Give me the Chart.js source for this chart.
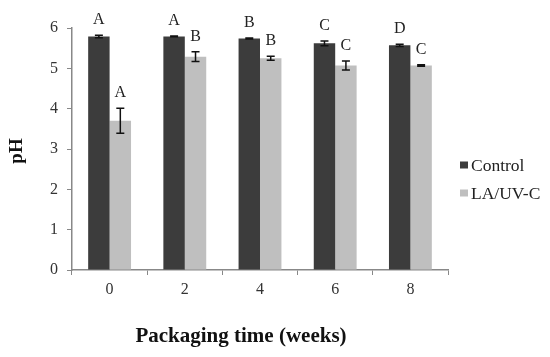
<!DOCTYPE html>
<html><head><meta charset="utf-8">
<script src="https://cdn.jsdelivr.net/npm/chart.js@4"></script>
<style>html,body{margin:0;padding:0;background:#fff}#w{width:550px;height:357px}</style>
</head><body><div id="w"><canvas id="c"></canvas></div>
<script>
const categories = ['0','2','4','6','8'];
const controlValues = [5.79, 5.79, 5.74, 5.62, 5.57];
const controlErrors = [0.03, 0.01, 0.01, 0.06, 0.03];
const controlLetters = ['A','A','B','C','D'];
const laValues = [3.70, 5.29, 5.25, 5.07, 5.07];
const laErrors = [0.31, 0.12, 0.05, 0.11, 0.02];
const laLetters = ['A','B','B','C','C'];
const yTicks = [0,1,2,3,4,5,6];
const seriesNames = ['Control','LA/UV-C'];
const xTitle = 'Packaging time (weeks)';
const yTitle = 'pH';
const colors = ['#3c3c3c','#bfbfbf'];

const errs = [controlErrors, laErrors];
const letters = [controlLetters, laLetters];
const SERIF = '"Liberation Serif", "Times New Roman", serif';

const annot = {
  id:'annot',
  afterDatasetsDraw(chart){
    const ctx = chart.ctx, ys = chart.scales.y;
    chart.data.datasets.forEach((ds,di)=>{
      const meta = chart.getDatasetMeta(di);
      meta.data.forEach((bar,i)=>{
        const v = ds.data[i], e = errs[di][i];
        const yt = ys.getPixelForValue(v+e), yb = ys.getPixelForValue(v-e);
        ctx.save();
        ctx.strokeStyle='#111'; ctx.lineWidth=1.5;
        ctx.beginPath();
        ctx.moveTo(bar.x,yt); ctx.lineTo(bar.x,yb);
        ctx.moveTo(bar.x-4,yt); ctx.lineTo(bar.x+4,yt);
        ctx.moveTo(bar.x-4,yb); ctx.lineTo(bar.x+4,yb);
        ctx.stroke();
        ctx.fillStyle='#222'; ctx.font='16px '+SERIF;
        ctx.textAlign='center'; ctx.textBaseline='alphabetic';
        ctx.fillText(letters[di][i], bar.x, yt-11);
        ctx.restore();
      });
    });
    // legend
    ctx.save();
    ctx.font='17.5px '+SERIF; ctx.textBaseline='middle'; ctx.textAlign='left';
    const ly=[165,193];
    seriesNames.forEach((n,i)=>{
      ctx.fillStyle=colors[i];
      ctx.fillRect(460, ly[i]-3.5, 8, 7);
      ctx.fillStyle='#222';
      ctx.fillText(n, 471, ly[i]+1);
    });
    // axis titles
    ctx.fillStyle='#111';
    ctx.font='bold 21px '+SERIF; ctx.textAlign='center'; ctx.textBaseline='alphabetic';
    ctx.fillText(xTitle, 241, 342);
    ctx.save();
    ctx.translate(22,151); ctx.rotate(-Math.PI/2);
    ctx.font='bold 19px '+SERIF; ctx.textAlign='center'; ctx.textBaseline='alphabetic';
    ctx.fillText(yTitle,0,0);
    ctx.restore();
    ctx.restore();
  }
};

new Chart(document.getElementById('c'),{
  type:'bar',
  data:{labels:categories,datasets:[
    {label:seriesNames[0],data:controlValues,backgroundColor:colors[0],categoryPercentage:0.57,barPercentage:1},
    {label:seriesNames[1],data:laValues,backgroundColor:colors[1],categoryPercentage:0.57,barPercentage:1}
  ]},
  options:{
    responsive:true,maintainAspectRatio:false,animation:false,
    layout:{padding:{left:0,top:28,right:102,bottom:0}},
    plugins:{legend:{display:false},tooltip:{enabled:false}},
    scales:{
      x:{
        grid:{drawOnChartArea:false,drawTicks:true,tickLength:5,color:'#888',offset:true},
        border:{color:'#888',width:1.5},
        ticks:{color:'#333',font:{family:SERIF,size:16},padding:5},
        afterFit(s){s.height=87;}
      },
      y:{
        min:0,max:6,
        afterBuildTicks(s){s.ticks=yTicks.map(v=>({value:v}));},
        grid:{drawOnChartArea:false,drawTicks:true,tickLength:5,color:'#888'},
        border:{color:'#888',width:1.5},
        ticks:{color:'#333',font:{family:SERIF,size:16},padding:9},
        afterFit(s){s.width=72;}
      }
    }
  },
  plugins:[annot]
});
</script></body></html>
